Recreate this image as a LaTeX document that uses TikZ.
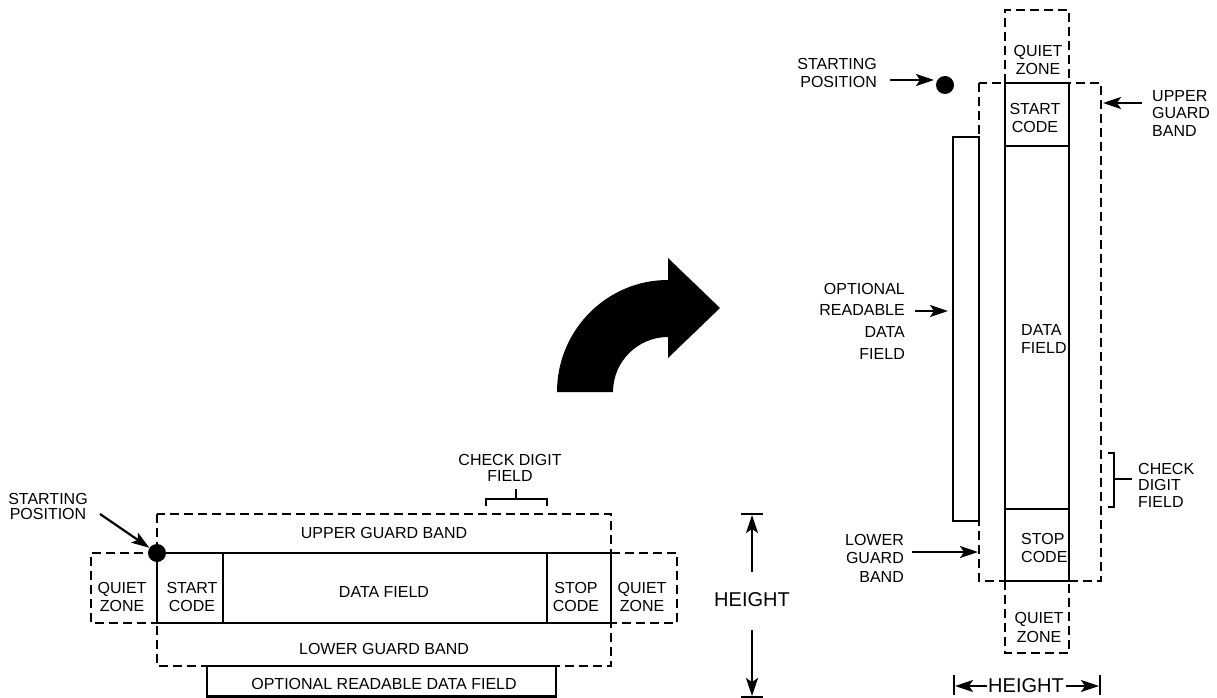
\documentclass[tikz,border=0pt]{standalone}
\usepackage{fontspec}
\setmainfont{Liberation Sans}
\usetikzlibrary{arrows.meta}
\begin{document}
\begin{tikzpicture}[x=1pt,y=-1pt,
  solidline/.style={line width=2.2pt},
  dashline/.style={line width=2.2pt, dash pattern=on 9pt off 5pt},
  lbl/.style={inner sep=0pt, font=\fontsize{16}{17.5}\selectfont, align=center},
  big/.style={inner sep=0pt, font=\fontsize{20}{24}\selectfont},
  arr/.style={line width=2.2pt, -{Stealth[length=18pt,width=12pt,inset=4pt]}},
  dot/.style={circle, fill=black, minimum size=18pt, inner sep=0pt},
]
\useasboundingbox (0,0) rectangle (1217,698);

% ---------------- left (horizontal) symbol ----------------
\draw[dashline] (157,514) rectangle (611,666);
\draw[dashline] (157,553) -- (91,553) -- (91,623) -- (157,623);
\draw[dashline] (611,553) -- (677,553) -- (677,623) -- (611,623);
\draw[solidline, fill=white] (157,553) rectangle (611,623);
\draw[solidline] (223,553) -- (223,623);
\draw[solidline] (547,553) -- (547,623);
\draw[solidline, fill=white] (207,666) rectangle (556,696.5);

\node[dot] (dotL) at (157,553) {};
\node[lbl, font=\fontsize{16}{15}\selectfont] (spL) at (48,506) {STARTING\\POSITION};
\coordinate (spLa) at (100,514);
\draw[arr] (spLa) -- (dotL);

\node[lbl] (ugbL) at (384,533) {UPPER GUARD BAND};
\node[lbl] (qzL1) at (122,597) {QUIET\\ZONE};
\node[lbl] (scL) at (192,597) {START\\CODE};
\node[lbl] (dfL) at (384,592) {DATA FIELD};
\node[lbl] (stL) at (576,597) {STOP\\CODE};
\node[lbl] (qzL2) at (642,597) {QUIET\\ZONE};
\node[lbl] (lgbL) at (384,649) {LOWER GUARD BAND};
\node[lbl] (ordL) at (384,684) {OPTIONAL READABLE DATA FIELD};

% check digit bracket
\draw[solidline] (486,506) -- (486,499) -- (547,499) -- (547,506);
\coordinate (cdTop) at (516,489);
\draw[solidline] (516,499) -- (cdTop);
\node[lbl, font=\fontsize{16}{16}\selectfont] (cdL) at (510,468) {CHECK DIGIT\\FIELD};

% height dimension
\draw[solidline] (741,514) -- (763,514);
\draw[solidline] (741,697) -- (763,697);
\node[big] (hL) at (752,600) {HEIGHT};
\coordinate (hLt) at (752,515);
\coordinate (hLb) at (752,696);
\coordinate (hLs1) at (752,572);
\coordinate (hLs2) at (752,630);
\draw[arr] (hLs1) -- (hLt);
\draw[arr] (hLs2) -- (hLb);

% ---------------- curved arrow ----------------
\fill (557,392) arc[start angle=180, end angle=270, x radius=111, y radius=112]
  -- (668,258) -- (720,308) -- (668,358) -- (668,337)
  arc[start angle=270, end angle=180, radius=55] -- cycle;

% ---------------- right (vertical) symbol ----------------
\draw[dashline] (979,83) rectangle (1101,581);
\draw[dashline] (1005,83) -- (1005,10) -- (1069,10) -- (1069,83);
\draw[dashline] (1005,581) -- (1005,653) -- (1069,653) -- (1069,581);
\draw[solidline, fill=white] (1005,83) rectangle (1069,581);
\draw[solidline] (1005,146) -- (1069,146);
\draw[solidline] (1005,509) -- (1069,509);
\draw[solidline, fill=white] (953,137) rectangle (979,521);

\node[dot] (dotR) at (945,85) {};
\node[lbl, align=right, font=\fontsize{16}{18}\selectfont, anchor=east] (spR) at (877,73) {STARTING\\POSITION};
\coordinate (spRa) at (890,80);
\coordinate (spRb) at (934,80);
\draw[arr] (spRa) -- (spRb);

\node[lbl, font=\fontsize{16}{18}\selectfont] (qzR1) at (1038,60) {QUIET\\ZONE};
\node[lbl] (scR) at (1035,118) {START\\CODE};
\node[lbl, align=left, anchor=west] (dfR) at (1021,339) {DATA\\FIELD};
\node[lbl, align=left, anchor=west] (stR) at (1021,548) {STOP\\CODE};
\node[lbl, font=\fontsize{16}{19}\selectfont] (qzR2) at (1039,627) {QUIET\\ZONE};

\node[lbl, align=left, anchor=west] (ugbR) at (1152,113) {UPPER\\GUARD\\BAND};
\coordinate (ugbRa) at (1142,103);
\coordinate (ugbRb) at (1103,103);
\draw[arr] (ugbRa) -- (ugbRb);

\node[lbl, align=right, anchor=east, font=\fontsize{16}{21.7}\selectfont] (ordR) at (905,321) {OPTIONAL\\READABLE\\DATA\\FIELD};
\coordinate (ordRa) at (915,311);
\coordinate (ordRb) at (948,311);
\draw[arr] (ordRa) -- (ordRb);

\node[lbl, align=right, anchor=east, font=\fontsize{16}{18.5}\selectfont] (lgbR) at (904,558) {LOWER\\GUARD\\BAND};
\coordinate (lgbRa) at (912,552);
\coordinate (lgbRb) at (978,552);
\draw[arr] (lgbRa) -- (lgbRb);

% check digit bracket (right)
\draw[solidline] (1108,453) -- (1114,453) -- (1114,507) -- (1108,507);
\coordinate (cdRs) at (1132,479);
\draw[solidline] (1114,479) -- (cdRs);
\node[lbl, align=left, anchor=west, font=\fontsize{16}{16.5}\selectfont] (cdR) at (1138,485) {CHECK\\DIGIT\\FIELD};

% height dimension (right)
\draw[solidline] (954,675) -- (954,695);
\draw[solidline] (1100,675) -- (1100,695);
\node[big] (hR) at (1026,686) {HEIGHT};
\coordinate (hRl) at (955,686);
\coordinate (hRr) at (1099,686);
\coordinate (hRs1) at (987,686);
\coordinate (hRs2) at (1066,686);
\draw[arr] (hRs1) -- (hRl);
\draw[arr] (hRs2) -- (hRr);
\end{tikzpicture}
\end{document}
